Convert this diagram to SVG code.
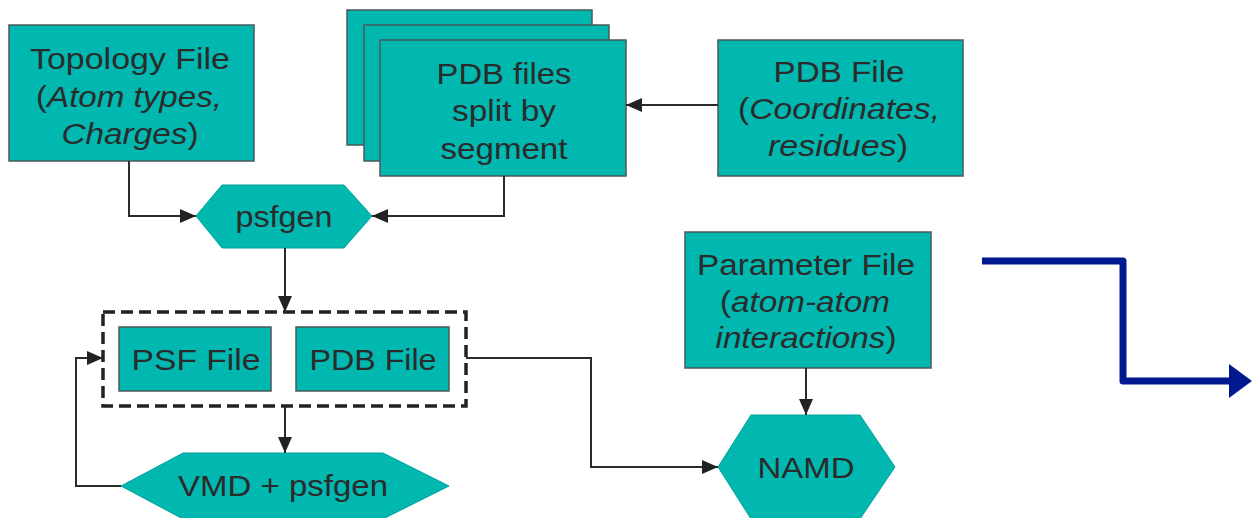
<svg xmlns="http://www.w3.org/2000/svg" width="1252" height="518" viewBox="0 0 1252 518">
<style>
.box{fill:#00b8b0;stroke:#4a5a5a;stroke-width:1.5}
.hex{fill:#00b8b0;stroke:#00a39c;stroke-width:1}
.t{font-family:"Liberation Sans",Arial,sans-serif;font-size:30px;fill:#2b2b2b;text-anchor:middle}
.i{font-style:italic}
.c{fill:none;stroke:#2b2b2b;stroke-width:2}
</style>
<defs>
<marker id="ah" viewBox="0 0 16 14" refX="16" refY="7" markerWidth="16" markerHeight="14" markerUnits="userSpaceOnUse" orient="auto">
<path d="M0,0 L16,7 L0,14 z" fill="#222"/>
</marker>
</defs>
<rect width="1252" height="518" fill="#fff"/>

<g id="topology">
<rect class="box" x="9" y="25" width="245" height="136"/>
<text class="t" x="130" y="69" textLength="200" lengthAdjust="spacingAndGlyphs">Topology File</text>
<text class="t" x="129" y="107" textLength="186" lengthAdjust="spacingAndGlyphs">(<tspan class="i">Atom types,</tspan></text>
<text class="t" x="130" y="144" textLength="137" lengthAdjust="spacingAndGlyphs"><tspan class="i">Charges</tspan>)</text>
</g>

<g id="pdb-split">
<rect class="box" x="347" y="10" width="245" height="135"/>
<rect class="box" x="364" y="25" width="245" height="136"/>
<rect class="box" x="380" y="40" width="246" height="136"/>
<text class="t" x="504" y="84" textLength="135" lengthAdjust="spacingAndGlyphs">PDB files</text>
<text class="t" x="504" y="121" textLength="104" lengthAdjust="spacingAndGlyphs">split by</text>
<text class="t" x="504" y="159" textLength="127" lengthAdjust="spacingAndGlyphs">segment</text>
</g>

<g id="pdb-file">
<rect class="box" x="718" y="40" width="245" height="136"/>
<text class="t" x="839" y="82" textLength="131" lengthAdjust="spacingAndGlyphs">PDB File</text>
<text class="t" x="839" y="119" textLength="202" lengthAdjust="spacingAndGlyphs">(<tspan class="i">Coordinates,</tspan></text>
<text class="t" x="838" y="156" textLength="140" lengthAdjust="spacingAndGlyphs"><tspan class="i">residues</tspan>)</text>
</g>

<g id="psfgen">
<polygon class="hex" points="196,216 222,185 344,185 372,216 344,248 222,248"/>
<text class="t" x="284" y="227" textLength="97" lengthAdjust="spacingAndGlyphs">psfgen</text>
</g>

<g id="output-group">
<rect x="103" y="312" width="363" height="94" fill="none" stroke="#222" stroke-width="3.5" stroke-dasharray="12 6"/>
</g>

<g id="psf-file">
<rect class="box" x="119" y="327" width="152" height="64"/>
<text class="t" x="196" y="370" textLength="129" lengthAdjust="spacingAndGlyphs">PSF File</text>
</g>

<g id="pdb-file-out">
<rect class="box" x="296" y="327" width="153" height="64"/>
<text class="t" x="373" y="370" textLength="127" lengthAdjust="spacingAndGlyphs">PDB File</text>
</g>

<g id="vmd">
<polygon class="hex" points="121,486 183,453 383,453 449,486 383,519 183,519"/>
<text class="t" x="283" y="496" textLength="210" lengthAdjust="spacingAndGlyphs">VMD + psfgen</text>
</g>

<g id="parameter-file">
<rect class="box" x="685" y="232" width="246" height="136"/>
<text class="t" x="806" y="275" textLength="218" lengthAdjust="spacingAndGlyphs">Parameter File</text>
<text class="t" x="805" y="312" textLength="170" lengthAdjust="spacingAndGlyphs">(<tspan class="i">atom-atom</tspan></text>
<text class="t" x="806" y="348" textLength="181" lengthAdjust="spacingAndGlyphs"><tspan class="i">interactions</tspan>)</text>
</g>

<g id="namd">
<polygon class="hex" points="718,467 751,415 860,415 895,467 860,519 751,519"/>
<text class="t" x="806" y="478" textLength="97" lengthAdjust="spacingAndGlyphs">NAMD</text>
</g>

<g id="connectors">
<path class="c" d="M129,161 V216 H196" marker-end="url(#ah)"/>
<path class="c" d="M504,176 V216 H372" marker-end="url(#ah)"/>
<path class="c" d="M718,105 H626" marker-end="url(#ah)"/>
<path class="c" d="M285,248 V312" marker-end="url(#ah)"/>
<path class="c" d="M285,406 V453" marker-end="url(#ah)"/>
<path class="c" d="M121,486 H76 V358 H103" marker-end="url(#ah)"/>
<path class="c" d="M466,358 H591 V467 H718" marker-end="url(#ah)"/>
<path class="c" d="M806,368 V415" marker-end="url(#ah)"/>
<path d="M982,261 H1123 V381 H1232" fill="none" stroke="#001890" stroke-width="7" stroke-linejoin="round"/>
<polygon points="1229,364 1252,381 1229,398" fill="#001890"/>
</g>
</svg>
